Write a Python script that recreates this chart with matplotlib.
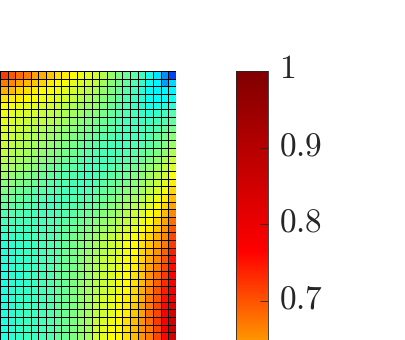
import numpy as np
import matplotlib
matplotlib.use("Agg")
import matplotlib.pyplot as plt
from matplotlib.colors import LinearSegmentedColormap, Normalize
from matplotlib.cm import ScalarMappable
from matplotlib.transforms import ScaledTranslation

plt.rcParams["mathtext.fontset"] = "cm"

# Cell values, top row first
grid_values = [
    [.72, .70, .68, .67, .64, .63, .61, .59, .58, .57, .55, .54, .52, .49, .46, .43, .41, .39, .36, .32, .28, .22, .17],
    [.67, .66, .64, .62, .61, .60, .58, .57, .56, .54, .53, .51, .50, .47, .44, .42, .40, .38, .35, .31, .29, .23, .27],
    [.63, .62, .60, .59, .58, .57, .56, .55, .54, .52, .51, .49, .48, .45, .43, .41, .39, .37, .34, .30, .29, .29, .29],
    [.59, .58, .58, .57, .56, .55, .54, .53, .52, .50, .49, .47, .46, .44, .42, .40, .38, .36, .34, .31, .30, .30, .31],
    [.57, .56, .55, .54, .54, .53, .52, .51, .49, .48, .47, .46, .45, .43, .41, .39, .38, .36, .34, .32, .32, .33, .34],
    [.55, .54, .53, .53, .52, .51, .50, .49, .48, .47, .46, .44, .44, .42, .40, .39, .38, .37, .35, .34, .35, .36, .38],
    [.54, .53, .52, .51, .50, .50, .49, .48, .47, .45, .44, .43, .42, .41, .39, .38, .37, .37, .36, .36, .37, .38, .40],
    [.53, .52, .51, .50, .49, .48, .47, .46, .45, .44, .43, .42, .41, .40, .39, .38, .37, .37, .37, .37, .38, .40, .42],
    [.52, .51, .50, .49, .48, .47, .46, .45, .44, .43, .42, .41, .40, .39, .38, .37, .37, .37, .37, .38, .40, .42, .44],
    [.51, .50, .49, .48, .47, .46, .45, .44, .43, .42, .41, .40, .39, .38, .37, .37, .37, .38, .38, .39, .41, .43, .46],
    [.50, .49, .48, .47, .46, .45, .44, .43, .42, .41, .40, .39, .38, .37, .37, .37, .38, .39, .40, .41, .43, .45, .48],
    [.49, .48, .47, .46, .45, .44, .43, .42, .41, .40, .39, .38, .37, .37, .37, .38, .39, .40, .41, .43, .45, .48, .51],
    [.47, .47, .46, .45, .44, .42, .41, .40, .39, .39, .38, .37, .37, .37, .38, .39, .40, .41, .43, .45, .47, .50, .53],
    [.46, .45, .44, .43, .42, .41, .40, .39, .38, .38, .37, .37, .37, .38, .39, .40, .41, .43, .44, .47, .49, .52, .56],
    [.44, .44, .43, .42, .41, .40, .39, .38, .38, .37, .37, .37, .38, .39, .40, .41, .42, .44, .46, .48, .51, .54, .58],
    [.43, .42, .41, .40, .39, .39, .38, .38, .37, .37, .37, .38, .39, .40, .41, .42, .44, .45, .47, .50, .53, .56, .60],
    [.41, .41, .40, .39, .38, .38, .37, .37, .37, .38, .38, .39, .40, .41, .42, .44, .45, .47, .49, .52, .55, .58, .62],
    [.40, .39, .39, .38, .38, .37, .37, .37, .38, .38, .39, .40, .41, .42, .44, .45, .47, .49, .51, .54, .57, .60, .64],
    [.38, .38, .38, .37, .37, .37, .37, .38, .38, .39, .40, .41, .42, .44, .45, .47, .49, .51, .53, .56, .58, .62, .66],
    [.37, .37, .37, .37, .37, .37, .38, .38, .39, .40, .41, .42, .44, .45, .47, .49, .50, .52, .55, .57, .60, .64, .68],
    [.36, .36, .36, .36, .37, .37, .38, .39, .40, .41, .42, .43, .45, .46, .48, .50, .52, .54, .56, .58, .61, .65, .70],
    [.35, .35, .36, .36, .37, .38, .38, .39, .40, .42, .43, .44, .46, .48, .50, .52, .54, .56, .58, .60, .63, .66, .71],
    [.34, .34, .35, .35, .36, .37, .38, .39, .40, .42, .43, .45, .47, .49, .51, .53, .56, .57, .59, .61, .64, .67, .72],
    [.34, .34, .35, .36, .36, .37, .38, .39, .41, .42, .44, .45, .47, .49, .51, .53, .55, .57, .60, .62, .65, .69, .74],
    [.34, .34, .35, .35, .36, .37, .38, .39, .41, .42, .44, .46, .48, .50, .52, .54, .56, .58, .60, .63, .66, .70, .75],
    [.33, .34, .35, .35, .36, .37, .38, .40, .41, .42, .44, .46, .48, .50, .52, .54, .56, .58, .61, .64, .67, .71, .76],
    [.33, .34, .34, .35, .36, .37, .38, .40, .41, .43, .44, .46, .49, .51, .53, .55, .57, .59, .61, .65, .68, .72, .77],
    [.33, .34, .34, .35, .36, .37, .38, .40, .41, .43, .45, .47, .49, .51, .53, .55, .57, .59, .62, .65, .69, .73, .78],
    [.33, .34, .35, .35, .36, .37, .38, .40, .41, .43, .45, .47, .49, .51, .53, .55, .57, .60, .63, .66, .70, .74, .79],
    [.33, .34, .35, .35, .36, .37, .38, .40, .41, .43, .45, .47, .50, .52, .54, .56, .58, .60, .63, .67, .70, .75, .80],
    [.33, .34, .35, .36, .36, .37, .38, .40, .41, .43, .45, .47, .50, .52, .54, .56, .58, .61, .64, .67, .71, .76, .82],
    [.33, .34, .35, .36, .36, .37, .38, .40, .41, .43, .45, .47, .50, .52, .54, .56, .58, .61, .64, .68, .71, .77, .84],
    [.33, .34, .35, .36, .36, .37, .38, .40, .41, .43, .45, .47, .51, .53, .55, .57, .59, .62, .65, .68, .72, .77, .85],
    [.33, .34, .35, .36, .36, .37, .38, .40, .41, .43, .45, .47, .52, .54, .56, .57, .59, .62, .65, .67, .71, .77, .86],
    [.33, .34, .35, .36, .36, .37, .38, .40, .41, .43, .45, .47, .52, .54, .56, .57, .59, .62, .65, .67, .71, .76, .85],
]
cbar_ticks = [0.7, 0.8, 0.9, 1.0]
cbar_tick_labels = [r"$0.7$", r"$0.8$", r"$0.9$", r"$1$"]

# jet-like map, stretched so pure red sits near 0.765
vmin, vmax = 0.035, 1.0
cmap_nodes = [
    (0.035, (0, 0, 0.5)),
    (0.125, (0, 0, 1)),
    (0.295, (0, 1, 1)),
    (0.568, (1, 1, 0)),
    (0.765, (1, 0, 0)),
    (1.0, (0.5, 0, 0)),
]
cmap = LinearSegmentedColormap.from_list(
    "stretched_jet", [((v - vmin) / (vmax - vmin), c) for v, c in cmap_nodes], N=512
)
norm = Normalize(vmin, vmax)

W, H = 405, 340
fig = plt.figure(figsize=(W / 100, H / 100), dpi=100)

# Heatmap runs off the left and bottom of the figure
ax = fig.add_axes([0, 0, 176 / W, (H - 71) / H])
data = np.array(grid_values)
ax.pcolormesh(np.arange(data.shape[1] + 1), np.arange(data.shape[0] + 1), data,
              cmap=cmap, norm=norm, edgecolors="black", linewidth=0.5)
ax.set_ylim(data.shape[0], 0)
ax.set_xticks([])
ax.set_yticks([])
for s in ax.spines.values():
    s.set_visible(False)

# Colorbar, also cut by the bottom edge
cax = fig.add_axes([236 / W, 0, 32 / W, (H - 71) / H])
cbar = fig.colorbar(ScalarMappable(norm=norm, cmap=cmap), cax=cax)
cax.set_ylim(1 - 269 / 767, 1)
cbar.set_ticks(cbar_ticks)
cbar.set_ticklabels(cbar_tick_labels)
cax.tick_params(axis="y", direction="in", length=5.8, width=0.6, color="#262626",
                labelcolor="#262626", labelsize=24, pad=8)
cbar.outline.set_edgecolor("#262626")
cbar.outline.set_linewidth(0.6)

# labels sit a little above their ticks in the original
shift = ScaledTranslation(0, 4 / 72, fig.dpi_scale_trans)
for lab in cax.get_yticklabels():
    lab.set_transform(lab.get_transform() + shift)

fig.savefig("out.png", dpi=100)
